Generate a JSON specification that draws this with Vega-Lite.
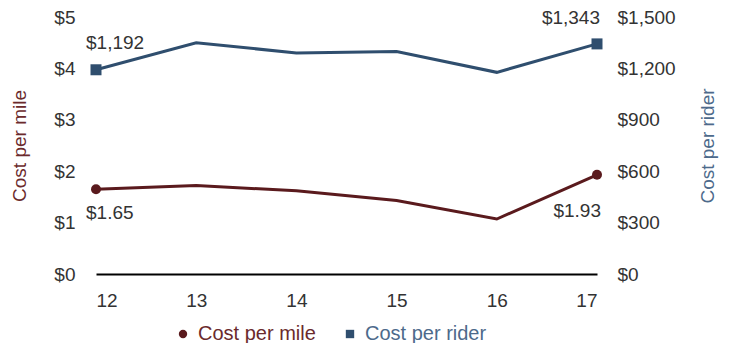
{
  "$schema": "https://vega.github.io/schema/vega-lite/v6.json",
  "width": 501,
  "height": 257,
  "autosize": {"type": "none"},
  "padding": {"left": 96, "top": 17, "right": 137, "bottom": 69},
  "config": {
    "view": {"stroke": null},
    "font": "Liberation Sans",
    "axis": {
      "labelFont": "Liberation Sans",
      "labelFontSize": 19,
      "labelColor": "#333333",
      "grid": false,
      "ticks": false,
      "domain": false,
      "titleFont": "Liberation Sans",
      "titleFontSize": 19,
      "titleFontWeight": "normal"
    },
    "legend": {
      "labelFont": "Liberation Sans",
      "labelFontSize": 20,
      "symbolSize": 70,
      "symbolStrokeWidth": 0,
      "columnPadding": 24,
      "labelOffset": 5
    }
  },
  "data": {
    "values": [
      {"x": 12, "mile": 1.65, "rider": 1192},
      {"x": 13, "mile": 1.72, "rider": 1350},
      {"x": 14, "mile": 1.62, "rider": 1290},
      {"x": 15, "mile": 1.43, "rider": 1299},
      {"x": 16, "mile": 1.07, "rider": 1177},
      {"x": 17, "mile": 1.93, "rider": 1343}
    ]
  },
  "encoding": {
    "x": {
      "field": "x",
      "type": "quantitative",
      "scale": {"domain": [12, 17], "nice": false},
      "axis": {
        "values": [12, 13, 14, 15, 16, 17],
        "format": "d",
        "title": null,
        "domain": true,
        "domainColor": "#000000",
        "domainWidth": 2,
        "labelPadding": 17
      }
    }
  },
  "layer": [
    {
      "encoding": {
        "y": {
          "field": "mile",
          "type": "quantitative",
          "scale": {"domain": [0, 5], "nice": false},
          "axis": {
            "orient": "left",
            "values": [0, 1, 2, 3, 4, 5],
            "format": "$.0f",
            "title": "Cost per mile",
            "titleColor": "#6b2a2c",
            "labelPadding": 21,
            "titlePadding": 24
          }
        },
        "color": {
          "datum": "Cost per mile",
          "type": "nominal",
          "scale": {"domain": ["Cost per mile", "Cost per rider"], "range": ["#5a1a1d", "#2f4e6e"]},
          "legend": {
            "title": null,
            "orient": "none",
            "direction": "horizontal",
            "legendX": 77,
            "legendY": 307,
            "encode": {
              "symbols": {"update": {"shape": {"signal": "datum.value === 'Cost per mile' ? 'circle' : 'square'"}}},
              "labels": {"update": {"fill": {"signal": "datum.value === 'Cost per mile' ? '#6b2a2c' : '#4d6a8b'"}}}
            }
          }
        }
      },
      "layer": [
        {"mark": {"type": "line", "strokeWidth": 3}},
        {
          "transform": [{"filter": "datum.x == 12 || datum.x == 17"}],
          "mark": {"type": "point", "shape": "circle", "filled": true, "size": 100, "opacity": 1}
        },
        {
          "transform": [{"filter": "datum.x == 12"}],
          "mark": {"type": "text", "align": "left", "dx": -10, "dy": 24, "fontSize": 19},
          "encoding": {"text": {"field": "mile", "format": "$.2f"}, "color": {"value": "#333333"}}
        },
        {
          "transform": [{"filter": "datum.x == 17"}],
          "mark": {"type": "text", "align": "right", "dx": 4, "dy": 36, "fontSize": 19},
          "encoding": {"text": {"field": "mile", "format": "$.2f"}, "color": {"value": "#333333"}}
        }
      ]
    },
    {
      "encoding": {
        "y": {
          "field": "rider",
          "type": "quantitative",
          "scale": {"domain": [0, 1500], "nice": false},
          "axis": {
            "orient": "right",
            "values": [0, 300, 600, 900, 1200, 1500],
            "format": "$,.0f",
            "title": "Cost per rider",
            "titleColor": "#4d6a8b",
            "titleAngle": -90,
            "labelPadding": 20,
            "titlePadding": 42
          }
        },
        "color": {
          "datum": "Cost per rider",
          "type": "nominal"
        }
      },
      "layer": [
        {"mark": {"type": "line", "strokeWidth": 3}},
        {
          "transform": [{"filter": "datum.x == 12 || datum.x == 17"}],
          "mark": {"type": "point", "shape": "square", "filled": true, "size": 121, "opacity": 1}
        },
        {
          "transform": [{"filter": "datum.x == 12"}],
          "mark": {"type": "text", "align": "left", "dx": -10, "dy": -27, "fontSize": 19},
          "encoding": {"text": {"field": "rider", "format": "$,.0f"}, "color": {"value": "#333333"}}
        },
        {
          "transform": [{"filter": "datum.x == 17"}],
          "mark": {"type": "text", "align": "right", "dx": 3, "dy": -26, "fontSize": 19},
          "encoding": {"text": {"field": "rider", "format": "$,.0f"}, "color": {"value": "#333333"}}
        }
      ]
    }
  ],
  "resolve": {"scale": {"y": "independent"}}
}
